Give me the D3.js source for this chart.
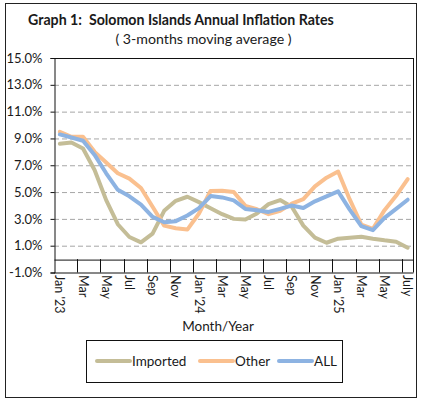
<!DOCTYPE html>
<html>
<head>
<meta charset="utf-8">
<script src="https://cdn.jsdelivr.net/npm/d3@7"></script>
<style>
  html, body { margin: 0; padding: 0; background: #fff; }
  svg { display: block; }
  text { font-family: Lato, "Open Sans", sans-serif; fill: #1a1a1a; }
</style>
</head>
<body>
<svg id="chart" width="424" height="402"></svg>
<script>
// ---- data ----
const months = [
  "2023-01","2023-02","2023-03","2023-04","2023-05","2023-06","2023-07","2023-08","2023-09","2023-10","2023-11","2023-12",
  "2024-01","2024-02","2024-03","2024-04","2024-05","2024-06","2024-07","2024-08","2024-09","2024-10","2024-11","2024-12",
  "2025-01","2025-02","2025-03","2025-04","2025-05","2025-06","2025-07"
];
const tickMonths = ["2023-01","2023-03","2023-05","2023-07","2023-09","2023-11","2024-01","2024-03","2024-05","2024-07","2024-09","2024-11","2025-01","2025-03","2025-05","2025-07"];
const tickLabels = ["Jan '23","Mar","May","Jul","Sep","Nov","Jan '24","Mar","May","Jul","Sep","Nov","Jan '25","Mar","May","July"];
const imported = [8.6, 8.7, 8.25, 6.65, 4.4, 2.6, 1.65, 1.25, 1.9, 3.6, 4.35, 4.65, 4.25, 3.8, 3.35, 3.0, 2.95, 3.4, 4.1, 4.4, 3.9, 2.5, 1.6, 1.22, 1.52, 1.6, 1.67, 1.52, 1.4, 1.3, 0.85];
const other    = [9.5, 9.12, 9.12, 8.0, 7.2, 6.4, 6.0, 5.3, 3.9, 2.5, 2.3, 2.2, 3.4, 5.08, 5.1, 5.0, 3.97, 3.72, 3.35, 3.6, 4.14, 4.47, 5.42, 6.07, 6.53, 4.45, 2.58, 2.26, 3.65, 4.72, 5.96];
const all      = [9.3, 9.07, 8.83, 7.77, 6.4, 5.17, 4.68, 4.06, 3.15, 2.75, 2.83, 3.25, 3.8, 4.7, 4.6, 4.38, 3.74, 3.64, 3.52, 3.75, 4.0, 3.81, 4.31, 4.68, 5.05, 3.69, 2.46, 2.16, 3.07, 3.74, 4.43];
const yTicks = [-1, 1, 3, 5, 7, 9, 11, 13, 15];
const seriesNames = ["Imported", "Other", "ALL"];
const seriesColors = ["#C4BD97", "#FAC08F", "#8DB3E2"];

// ---- layout ----
const svg = d3.select("#chart");
const L = 54, R = 413.5, T = 58, B = 272.5;

const x = d3.scaleBand().domain(months).range([L, R]).padding(0);
const y = d3.scaleLinear().domain([-1, 15]).range([B, T]);
const cx = m => x(m) + x.bandwidth() / 2;

// outer frame
svg.append("rect").attr("x", 5.5).attr("y", 3.5).attr("width", 411).attr("height", 394)
  .attr("fill", "none").attr("stroke", "#222").attr("stroke-width", 1);

// title
svg.append("text").attr("x", 28).attr("y", 25)
  .style("font-weight", "bold").style("font-size", "14.2px")
  .attr("xml:space", "preserve")
  .text("Graph 1:  Solomon Islands Annual Inflation Rates");
svg.append("text").attr("x", 203.5).attr("y", 44).attr("text-anchor", "middle")
  .style("font-size", "14.2px").text("( 3-months moving average )");

// gridlines
svg.append("g").selectAll("line").data(yTicks.filter(d => d > -1 && d < 15)).join("line")
  .attr("x1", L).attr("x2", R).attr("y1", d => y(d) + 0.5).attr("y2", d => y(d) + 0.5)
  .attr("stroke", "#a6a6a6").attr("stroke-width", 1).attr("stroke-dasharray", "5,3");

// plot border: top, right, bottom
svg.append("line").attr("x1", L).attr("x2", R).attr("y1", T + 0.5).attr("y2", T + 0.5).attr("stroke", "#111");
svg.append("line").attr("x1", R).attr("x2", R).attr("y1", T).attr("y2", B).attr("stroke", "#111");
svg.append("line").attr("x1", L).attr("x2", R).attr("y1", B + 0.5).attr("y2", B + 0.5).attr("stroke", "#111");

// y axis
const yAxis = d3.axisLeft(y).tickValues(yTicks).tickSize(4).tickPadding(8)
  .tickFormat(d => d.toFixed(1) + "%");
const gy = svg.append("g").attr("transform", `translate(${L + 0.5},0)`).call(yAxis);
gy.select(".domain").attr("stroke", "#111");
gy.selectAll(".tick line").attr("stroke", "#111");
gy.selectAll("text").style("font-size", "13px").style("font-family", "Lato, sans-serif").attr("fill", "#1a1a1a");

// x axis at 0%
const zeroY = y(0);
const xAxis = d3.axisBottom(x).tickValues(tickMonths).tickSize(0).tickPadding(0)
  .tickFormat((d, i) => tickLabels[i]);
const gx = svg.append("g").attr("transform", `translate(0,${zeroY + 0.5})`).call(xAxis);
gx.select(".domain").attr("stroke", "#111");
gx.selectAll(".tick text")
  .style("font-size", "12.5px").style("font-family", "Lato, sans-serif").attr("fill", "#1a1a1a")
  .attr("text-anchor", "start")
  .attr("transform", `translate(0,${B - zeroY + 2}) rotate(90)`)
  .attr("x", 0).attr("y", 0).attr("dy", "0.35em");

// tick marks between categories (every 2 months)
const boundaries = months.filter((m, i) => i % 2 === 0 && i > 0).map(m => x(m));
svg.append("g").selectAll("line").data(boundaries).join("line")
  .attr("x1", d => Math.round(d) + 0.5).attr("x2", d => Math.round(d) + 0.5)
  .attr("y1", zeroY).attr("y2", B)
  .attr("stroke", "#111");

// series lines
const series = [imported, other, all];
const line = d3.line().x((d, i) => cx(months[i])).y(d => y(d));
svg.append("g").selectAll("path").data(series).join("path")
  .attr("d", d => line(d))
  .attr("fill", "none")
  .attr("stroke", (d, i) => seriesColors[i])
  .attr("stroke-width", 4)
  .attr("stroke-linejoin", "round")
  .attr("stroke-linecap", "round");

// axis title
svg.append("text").attr("x", 218).attr("y", 331).attr("text-anchor", "middle")
  .style("font-size", "13.5px").text("Month/Year");

// legend
svg.append("rect").attr("x", 86.5).attr("y", 340.5).attr("width", 256).attr("height", 42)
  .attr("fill", "#fff").attr("stroke", "#111");
const legX = [97, 200, 279];
const lg = svg.append("g").selectAll("g").data(seriesNames).join("g")
  .attr("transform", (d, i) => `translate(${legX[i]},361)`);
lg.append("line").attr("x1", 0).attr("x2", 33).attr("y1", 0).attr("y2", 0)
  .attr("stroke", (d, i) => seriesColors[i]).attr("stroke-width", 4).attr("stroke-linecap", "round");
lg.append("text").attr("x", 35).attr("y", 0).attr("dy", "0.35em")
  .style("font-size", "13.5px").text(d => d);
</script>
</body>
</html>
